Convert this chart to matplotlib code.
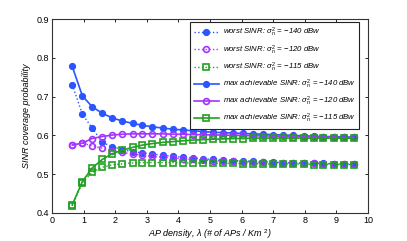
import numpy as np
import matplotlib.pyplot as plt

plt.rcParams['font.family'] = ['Liberation Sans', 'DejaVu Sans']
plt.rcParams['mathtext.fontset'] = 'custom'
plt.rcParams['mathtext.it'] = 'Liberation Sans:italic'
plt.rcParams['mathtext.rm'] = 'Liberation Sans'

# AP density values (x axis)
x = [0.64, 0.96, 1.27, 1.59, 1.91, 2.23, 2.55, 2.86, 3.18, 3.50, 3.82, 4.14,
     4.46, 4.77, 5.09, 5.41, 5.73, 6.05, 6.37, 6.68, 7.00, 7.32, 7.64, 7.96,
     8.28, 8.59, 8.91, 9.23, 9.55]

worst_140 = [0.731, 0.655, 0.619, 0.582, 0.571, 0.563, 0.558, 0.555, 0.552, 0.549,
             0.546, 0.544, 0.542, 0.540, 0.538, 0.536, 0.535, 0.534, 0.533, 0.532,
             0.531, 0.530, 0.530, 0.529, 0.528, 0.528, 0.527, 0.527, 0.526]
worst_120 = [0.575, 0.580, 0.573, 0.567, 0.561, 0.556, 0.552, 0.549, 0.546, 0.544,
             0.542, 0.540, 0.538, 0.537, 0.535, 0.534, 0.533, 0.532, 0.531, 0.531,
             0.530, 0.529, 0.529, 0.528, 0.528, 0.527, 0.527, 0.526, 0.526]
worst_115 = [0.418, 0.478, 0.505, 0.518, 0.524, 0.527, 0.529, 0.530, 0.530, 0.530,
             0.530, 0.529, 0.529, 0.529, 0.528, 0.528, 0.528, 0.527, 0.527, 0.527,
             0.526, 0.526, 0.526, 0.526, 0.525, 0.525, 0.525, 0.525, 0.525]
max_140 = [0.778, 0.702, 0.674, 0.657, 0.645, 0.637, 0.631, 0.626, 0.622, 0.619,
           0.616, 0.614, 0.612, 0.610, 0.608, 0.607, 0.606, 0.605, 0.604, 0.603,
           0.602, 0.601, 0.600, 0.599, 0.598, 0.597, 0.597, 0.596, 0.595]
max_120 = [0.575, 0.580, 0.592, 0.597, 0.601, 0.603, 0.604, 0.604, 0.604, 0.604,
           0.603, 0.603, 0.602, 0.602, 0.601, 0.601, 0.600, 0.600, 0.599, 0.599,
           0.598, 0.598, 0.597, 0.597, 0.596, 0.596, 0.596, 0.595, 0.595]
max_115 = [0.421, 0.481, 0.516, 0.538, 0.553, 0.562, 0.569, 0.575, 0.579, 0.582,
           0.584, 0.586, 0.588, 0.589, 0.590, 0.591, 0.592, 0.592, 0.593, 0.593,
           0.593, 0.593, 0.593, 0.593, 0.593, 0.593, 0.593, 0.593, 0.593]

blue = '#2a55ff'
purple = '#a235ff'
green = '#22a022'

fig = plt.figure(figsize=(4.07, 2.41), dpi=100)
ax = fig.add_axes([52 / 407, 28 / 241, 316 / 407, 194 / 241])

ms = 4.2
ax.plot(x, worst_140, ':', color=blue, marker='o', ms=ms, mfc=blue, mec=blue, lw=1,
        label=r'worst SINR: $\sigma_n^2$ = $-$140 dBw')
ax.plot(x, worst_120, ':', color=purple, marker='o', ms=ms, mfc='none', mec=purple, mew=1.2, lw=1,
        label=r'worst SINR: $\sigma_n^2$ = $-$120 dBw')
ax.plot(x, worst_115, ':', color=green, marker='s', ms=ms - 0.5, mfc='none', mec=green, mew=1.2, lw=1,
        label=r'worst SINR: $\sigma_n^2$ = $-$115 dBw')
ax.plot(x, max_140, '-', color=blue, marker='o', ms=ms, mfc=blue, mec=blue, lw=1.2,
        label=r'max achievable SINR: $\sigma_n^2$ = $-$140 dBw')
ax.plot(x, max_120, '-', color=purple, marker='o', ms=ms, mfc='none', mec=purple, mew=1.2, lw=1.2,
        label=r'max achievable SINR: $\sigma_n^2$ = $-$120 dBw')
ax.plot(x, max_115, '-', color=green, marker='s', ms=ms - 0.5, mfc='none', mec=green, mew=1.2, lw=1.2,
        label=r'max achievable SINR: $\sigma_n^2$ = $-$115 dBw')

ax.set_xlim(0, 10)
ax.set_ylim(0.4, 0.9)
ax.set_xticks(range(0, 11))
ax.set_yticks([0.4, 0.5, 0.6, 0.7, 0.8, 0.9])
ax.tick_params(direction='in', top=True, right=True, labelsize=6.5, length=2.5, width=0.6, pad=2)
for s in ax.spines.values():
    s.set_linewidth(0.8)
    s.set_color('#333333')

ax.set_xlabel(r'AP density, $\lambda$ (# of APs / Km $^2$)', fontsize=6.5, style='italic', labelpad=2)
ax.set_ylabel('SINR coverage probability', fontsize=6.5, style='italic', labelpad=4)

leg = ax.legend(loc='upper right', prop={'style': 'italic', 'size': 5.6}, numpoints=1,
                fancybox=False, edgecolor='#222222', framealpha=1, labelspacing=0.5,
                handlelength=3.2, handletextpad=0.5, borderpad=0.5,
                bbox_to_anchor=(0.985, 1.003))
leg.get_frame().set_linewidth(0.8)

fig.savefig('out.png', dpi=100)
